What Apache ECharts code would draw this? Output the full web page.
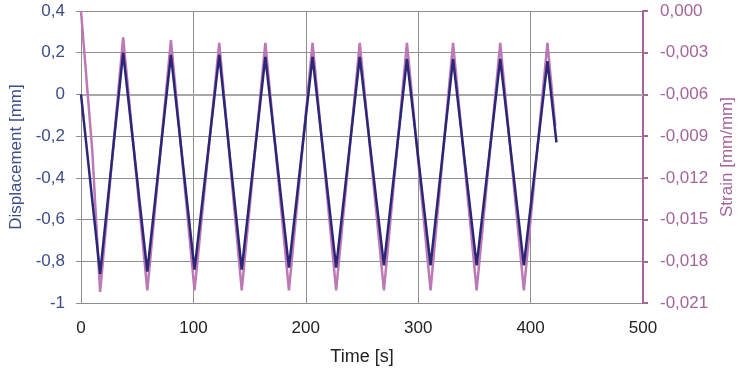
<!DOCTYPE html>
<html>
<head>
<meta charset="utf-8">
<script src="https://cdn.jsdelivr.net/npm/echarts@6/dist/echarts.min.js"></script>
<style>
  html, body { margin: 0; padding: 0; background: #fff; }
  #chart { width: 738px; height: 372px; }
</style>
</head>
<body>
<div id="chart"></div>
<script>
// 位移 (mm) 讀值
const dispTimes = [0, 17, 37.5, 59, 80, 101, 123, 143, 164, 185, 206, 227, 248, 269.5, 290, 311, 331, 352, 373, 394, 415, 423];
const dispValues = [0, -0.86, 0.20, -0.85, 0.19, -0.84, 0.19, -0.84, 0.18, -0.83, 0.18, -0.83, 0.18, -0.82, 0.17, -0.82, 0.17, -0.82, 0.17, -0.82, 0.16, -0.23];

// 應變 (mm/mm) 讀值
const strainTimes = [0, 10, 17, 37.5, 59, 80, 101, 123, 143, 164, 185, 206, 227, 248, 269.5, 290, 311, 331, 352, 373, 394, 415, 422];
const strainValues = [0, -0.0100, -0.0202, -0.0019, -0.0201, -0.0021, -0.0201, -0.0023, -0.0201, -0.0023, -0.0201, -0.0023, -0.0201, -0.0023, -0.0201, -0.0023, -0.0201, -0.0023, -0.0201, -0.0023, -0.0201, -0.0023, -0.0083];

const font = "'Liberation Sans', Arial, sans-serif";
const leftColor = '#3d4d8a';
const rightColor = '#a4649c';
const gridColor = '#8f8f8f';

const comma = s => s.replace('.', ',');

const chart = echarts.init(document.getElementById('chart'));
chart.setOption({
  animation: false,
  grid: { left: 81, right: 95, top: 11, bottom: 69, containLabel: false, outerBoundsMode: 'none' },
  xAxis: {
    type: 'value',
    min: 0, max: 500, interval: 100,
    name: 'Time [s]',
    nameLocation: 'middle',
    nameGap: 45,
    nameTextStyle: { color: '#222', fontSize: 18, fontFamily: font },
    axisLine: { lineStyle: { color: '#a8a8a8', width: 2 } },
    axisTick: { show: false },
    axisLabel: { color: '#222', fontSize: 17, fontFamily: font, margin: 17 },
    splitLine: { lineStyle: { color: gridColor, width: 1 } },
  },
  yAxis: [
    {
      type: 'value',
      min: -1, max: 0.4, interval: 0.2,
      name: 'Displacement [mm]',
      nameLocation: 'middle',
      nameGap: 56,
      nameTextStyle: { color: leftColor, fontSize: 17, fontFamily: font },
      axisLine: { show: true, lineStyle: { color: gridColor } },
      axisTick: { show: true, length: 5, lineStyle: { color: gridColor } },
      axisLabel: {
        color: leftColor, fontSize: 17, fontFamily: font, margin: 16,
        formatter: v => comma(String(parseFloat(v.toFixed(1)))),
      },
      splitLine: { lineStyle: { color: gridColor, width: 1 } },
    },
    {
      type: 'value',
      min: -0.021, max: 0, interval: 0.003,
      name: 'Strain [mm/mm]',
      nameLocation: 'middle',
      nameGap: 76,
      nameTextStyle: { color: rightColor, fontSize: 17, fontFamily: font },
      axisLine: { show: true, lineStyle: { color: rightColor, width: 2 } },
      axisTick: { show: true, length: 5, lineStyle: { color: rightColor, width: 2 } },
      axisLabel: {
        color: rightColor, fontSize: 17, fontFamily: font, margin: 17,
        formatter: v => comma((Math.abs(v) < 1e-9 ? 0 : v).toFixed(3)),
      },
      splitLine: { show: false },
    },
  ],
  series: [
    {
      name: 'Strain',
      type: 'line',
      yAxisIndex: 1,
      data: strainTimes.map((t, i) => [t, strainValues[i]]),
      symbol: 'none',
      lineStyle: { color: '#bd78b6', width: 2.5 },
    },
    {
      name: 'Displacement',
      type: 'line',
      yAxisIndex: 0,
      data: dispTimes.map((t, i) => [t, dispValues[i]]),
      symbol: 'none',
      lineStyle: { color: '#2c2676', width: 2.5 },
    },
  ],
});
</script>
</body>
</html>
